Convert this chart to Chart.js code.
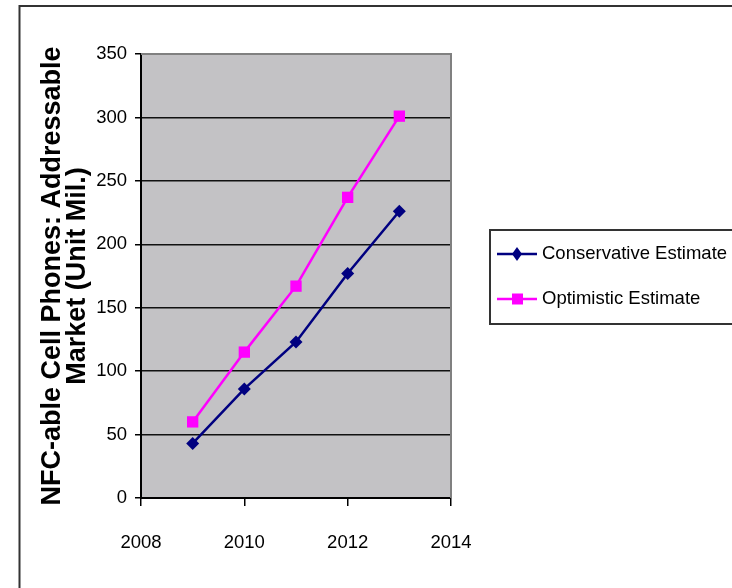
<!DOCTYPE html>
<html>
<head>
<meta charset="utf-8">
<script src="https://cdn.jsdelivr.net/npm/chart.js@4.4.1/dist/chart.umd.min.js"></script>
<style>
  html, body { margin: 0; padding: 0; background: #fff; }
  #wrap { width: 732px; height: 588px; }
</style>
</head>
<body>
<div id="wrap"><canvas id="nfcChart" width="732" height="588"></canvas></div>
<script>
// values
const years = [2009, 2010, 2011, 2012, 2013];
const conservative = [43, 86, 123, 177, 226];
const optimistic = [60, 115, 167, 237, 301];
const seriesNames = ['Conservative Estimate', 'Optimistic Estimate'];
const yTitle = ['NFC-able Cell Phones: Addressable', 'Market (Unit Mil.)'];

const FONT = "'Liberation Sans', Arial, sans-serif";

// page frame + gray plot background
const frame = {
    id: 'frame',
    beforeDraw(chart) {
        const { ctx, chartArea: a } = chart;
        ctx.save();
        ctx.strokeStyle = '#333';
        ctx.lineWidth = 2;
        ctx.beginPath();
        ctx.moveTo(19.5, 588);
        ctx.lineTo(19.5, 6);
        ctx.lineTo(732, 6);
        ctx.stroke();
        ctx.fillStyle = '#c3c2c5';
        ctx.fillRect(a.left, a.top, a.right - a.left, a.bottom - a.top);
        ctx.restore();
    },
    beforeDatasetsDraw(chart) {
        const { ctx, chartArea: a } = chart;
        ctx.save();
        ctx.strokeStyle = '#808080';
        ctx.lineWidth = 2;
        ctx.beginPath();
        ctx.moveTo(a.left, a.top);
        ctx.lineTo(a.right, a.top);
        ctx.lineTo(a.right, a.bottom);
        ctx.stroke();
        ctx.restore();
    }
};

// legend in a box, line + marker samples like the original
const boxedLegend = {
    id: 'boxedLegend',
    afterDraw(chart) {
        const ctx = chart.ctx;
        ctx.save();
        ctx.strokeStyle = '#333';
        ctx.lineWidth = 2;
        ctx.strokeRect(490, 230, 260, 94);
        chart.data.datasets.forEach((ds, i) => {
            const y = 254 + i * 45;
            ctx.strokeStyle = ds.borderColor;
            ctx.lineWidth = 2.5;
            ctx.beginPath();
            ctx.moveTo(497, y);
            ctx.lineTo(537, y);
            ctx.stroke();
            ctx.fillStyle = ds.backgroundColor;
            ctx.beginPath();
            if (ds.pointStyle === 'rectRot') {
                ctx.moveTo(517, y - 7);
                ctx.lineTo(522, y);
                ctx.lineTo(517, y + 7);
                ctx.lineTo(512, y);
                ctx.closePath();
            } else {
                ctx.rect(512, y - 5.5, 11, 11);
            }
            ctx.fill();
            ctx.fillStyle = '#000';
            ctx.font = '18.5px ' + FONT;
            ctx.textAlign = 'left';
            ctx.textBaseline = 'middle';
            ctx.fillText(ds.label, 542, y);
        });
        ctx.restore();
    }
};

new Chart(document.getElementById('nfcChart'), {
    type: 'line',
    data: {
        datasets: [
            {
                label: seriesNames[0],
                data: years.map((x, i) => ({ x, y: conservative[i] })),
                borderColor: '#000080',
                backgroundColor: '#000080',
                borderWidth: 2.5,
                pointStyle: 'rectRot',
                pointRadius: 6.5,
                pointBorderWidth: 0,
                tension: 0
            },
            {
                label: seriesNames[1],
                data: years.map((x, i) => ({ x, y: optimistic[i] })),
                borderColor: '#ff00ff',
                backgroundColor: '#ff00ff',
                borderWidth: 2.5,
                pointStyle: 'rect',
                pointRadius: 8,
                pointBorderWidth: 0,
                tension: 0
            }
        ]
    },
    options: {
        responsive: false,
        animation: false,
        layout: { padding: { left: 20, right: 281, top: 54, bottom: 30 } },
        plugins: {
            legend: { display: false },
            tooltip: { enabled: false }
        },
        scales: {
            x: {
                type: 'linear',
                min: 2008,
                max: 2014,
                afterFit: (s) => { s.height = 60; },
                ticks: {
                    stepSize: 2,
                    padding: 26,
                    color: '#000',
                    font: { family: FONT, size: 18.5 },
                    callback: (v) => String(v)
                },
                grid: {
                    drawOnChartArea: false,
                    color: '#000',
                    tickLength: 8,
                    lineWidth: 1.5
                },
                border: { color: '#000', width: 2 }
            },
            y: {
                min: 0,
                max: 350,
                afterFit: (s) => { s.width = 121; },
                ticks: {
                    stepSize: 50,
                    padding: 8,
                    color: '#000',
                    font: { family: FONT, size: 18.5 }
                },
                grid: {
                    color: (c) => (c.tick && c.tick.value === 350 ? '#808080' : '#111'),
                    tickColor: '#000',
                    lineWidth: 1.5,
                    tickLength: 6
                },
                border: { color: '#000', width: 2 },
                title: {
                    display: true,
                    text: yTitle,
                    color: '#000',
                    font: { family: FONT, size: 27, weight: 'bold', lineHeight: 0.93 },
                    padding: { top: 20, bottom: 0 }
                }
            }
        }
    },
    plugins: [frame, boxedLegend]
});
</script>
</body>
</html>
